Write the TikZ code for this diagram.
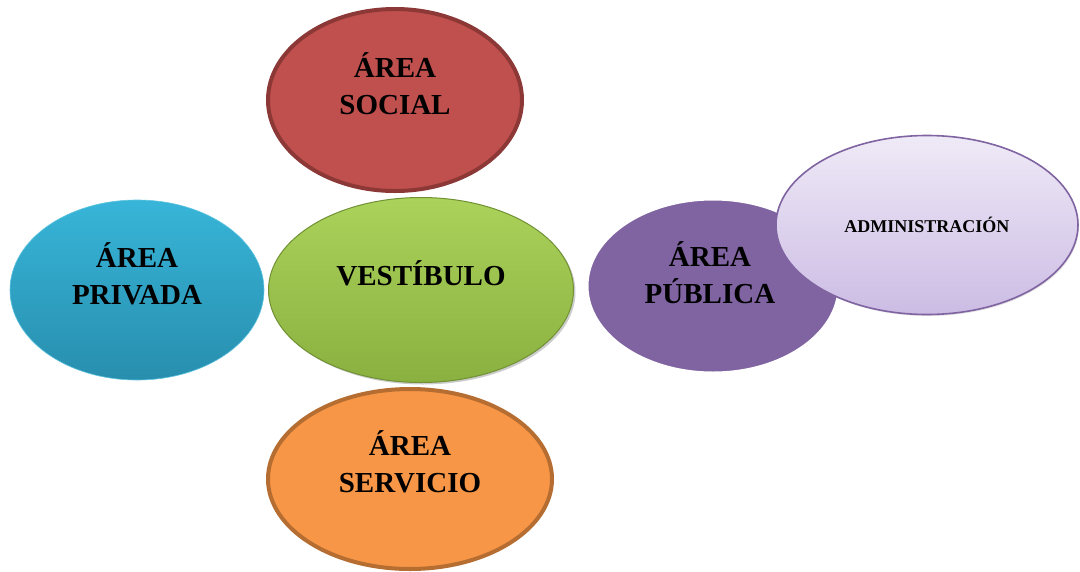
\documentclass[tikz,border=0pt]{standalone}
\usepackage{fontspec}
\setmainfont{Liberation Serif}
\usetikzlibrary{shapes.geometric,shadows}
\definecolor{socialred}{RGB}{192,80,77}
\definecolor{socialedge}{RGB}{140,56,54}
\definecolor{privtop}{RGB}{55,181,216}
\definecolor{privbot}{RGB}{40,142,174}
\definecolor{vesttop}{RGB}{171,210,90}
\definecolor{vestbot}{RGB}{138,176,64}
\definecolor{vestedge}{RGB}{112,145,52}
\definecolor{servorange}{RGB}{247,150,70}
\definecolor{servedge}{RGB}{182,109,49}
\definecolor{pubpurple}{RGB}{128,100,162}
\definecolor{admtop}{RGB}{239,234,247}
\definecolor{admbot}{RGB}{204,188,228}

\begin{document}
\begin{tikzpicture}[x=1pt,y=-1pt,
    zone/.style={ellipse,inner sep=0pt},
    lbl/.style={font=\bfseries\fontsize{29}{37}\selectfont,align=center,text=black}]
  \useasboundingbox (0,0) rectangle (1080,571);
  % the five areas round the hall
  \node[zone,fill=socialred,draw=socialedge,line width=4pt,
    minimum width=254,minimum height=182] (social) at (395,100) {};
  \node[zone,top color=privtop,bottom color=privbot,draw=privtop!80!white,line width=0.6pt,
    minimum width=254,minimum height=180] (privada) at (137,290) {};
  \node[zone,top color=vesttop,bottom color=vestbot,draw=vestedge,line width=1pt,
    drop shadow={shadow xshift=2pt,shadow yshift=-2pt,opacity=0.4},
    minimum width=305,minimum height=185] (vestibulo) at (421,290) {};
  \node[zone,fill=servorange,draw=servedge,line width=4pt,
    minimum width=284,minimum height=180] (servicio) at (410,479) {};
  \node[zone,fill=pubpurple,draw=white,line width=7pt,
    drop shadow={shadow xshift=1pt,shadow yshift=-1.5pt,opacity=0.25},
    minimum width=256,minimum height=178] (publica) at (713,286) {};
  \node[zone,top color=admtop,bottom color=admbot,draw=pubpurple,line width=1.6pt,
    drop shadow={shadow xshift=1pt,shadow yshift=-1.5pt,opacity=0.25},
    minimum width=302,minimum height=179] (admin) at (927,225) {};
  % labels
  \node[lbl] (socialtxt) at ([yshift=16pt]social.center) {ÁREA\\SOCIAL};
  \node[lbl] (privadatxt) at ([yshift=16pt]privada.center) {ÁREA\\PRIVADA};
  \node[lbl] (vestibulotxt) at ([yshift=17pt]vestibulo.center) {VESTÍBULO};
  \node[lbl] (serviciotxt) at ([yshift=17pt]servicio.center) {ÁREA\\SERVICIO};
  \node[lbl] (publicatxt) at ([xshift=-3pt,yshift=13pt]publica.center) {ÁREA\\PÚBLICA};
  \node[lbl,font=\bfseries\fontsize{18}{20}\selectfont] (admintxt) at (admin.center) {ADMINISTRACIÓN};
\end{tikzpicture}
\end{document}
